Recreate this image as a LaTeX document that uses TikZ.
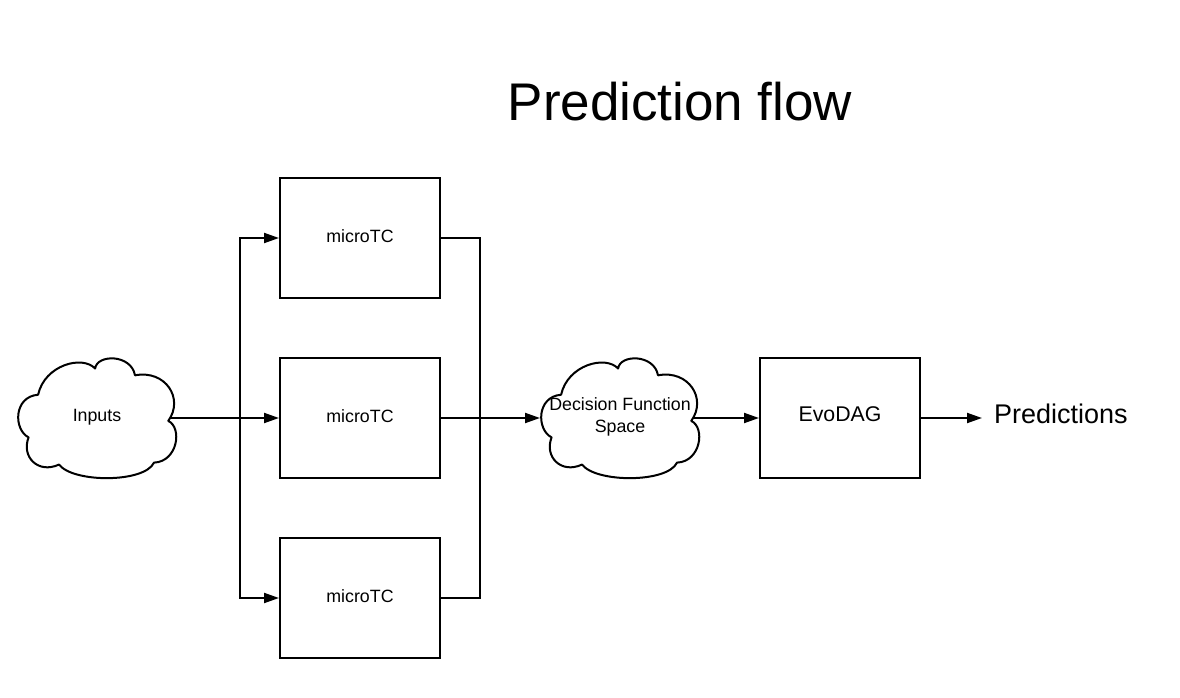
\documentclass[tikz,border=0pt]{standalone}
\usepackage{fontspec}
\setmainfont{Liberation Sans}
\usetikzlibrary{arrows.meta}
\newcommand{\up}[2]{\raisebox{#1}[\height][\depth]{#2}}
\begin{document}
\begin{tikzpicture}[x=1pt,y=-1pt,
  line width=2pt,
  box/.style={draw,line width=2pt,minimum width=160pt,minimum height=120pt,inner sep=0pt,font=\fontsize{17.8}{22}\selectfont},
  cloudy/.style={minimum width=164pt,minimum height=120pt,inner sep=0pt,align=center,font=\fontsize{17.8}{22}\selectfont},
  cloudline/.style={draw,line width=2pt,fill=white,line join=round},
  arr/.style={-{Triangle[length=15pt,width=10pt]},line width=2pt},
  ln/.style={line width=2pt},
  cloudshape/.pic={
    \path[cloudline,xscale=0.95,yscale=0.97] (-62,-24)
      .. controls (-55,-55) and (-15,-65) .. (-2,-51)
      .. controls (0,-66) and (36,-66) .. (40,-44)
      .. controls (72,-50) and (92,-20) .. (75,3)
      .. controls (90,10) and (85,45) .. (60,46)
      .. controls (50,67) and (-25,67) .. (-40,48)
      .. controls (-62,58) and (-80,40) .. (-72,20)
      .. controls (-88,12) and (-88,-22) .. cycle;
  }]
\useasboundingbox (0,0) rectangle (1180,698);
\fill[white] (0,0) rectangle (1180,698);
\node[font=\fontsize{53}{60}\selectfont] (title) at (680,102) {Prediction flow};
\node[box] (m1) at (360,238) {\up{2pt}{microTC}};
\node[box] (m2) at (360,418) {\up{2pt}{microTC}};
\node[box] (m3) at (360,598) {\up{2pt}{microTC}};
\pic at (97,418) {cloudshape};
\pic at (620,418) {cloudshape};
\node[cloudy] (in) at (97,418) {\up{1pt}{Inputs}};
\node[cloudy] (dfs) at (620,418) {\up{1pt}{Decision Function}\\\up{1pt}{Space}};
\node[box,font=\fontsize{21.3}{24}\selectfont] (evo) at (840,418) {\up{4pt}{EvoDAG}};
\node[anchor=west,font=\fontsize{27}{30}\selectfont,inner sep=0pt] (pred) at (993,414) {Predictions};
\coordinate (sp) at (240,418);
\coordinate (jn) at (480,418);
\coordinate (pe) at (982,418);
\draw[ln] ([xshift=-10pt]in.east) -- (sp);
\draw[arr] (sp) -- (m2.west);
\draw[arr] (sp) |- (m1.west);
\draw[arr] (sp) |- (m3.west);
\draw[ln] (m1.east) -| (jn);
\draw[ln] (m3.east) -| (jn);
\draw[ln] (m2.east) -- (jn);
\draw[arr] (jn) -- ([xshift=3pt]dfs.west);
\draw[arr] ([xshift=-10pt]dfs.east) -- (evo.west);
\draw[arr] (evo.east) -- (pe);
\end{tikzpicture}
\end{document}
